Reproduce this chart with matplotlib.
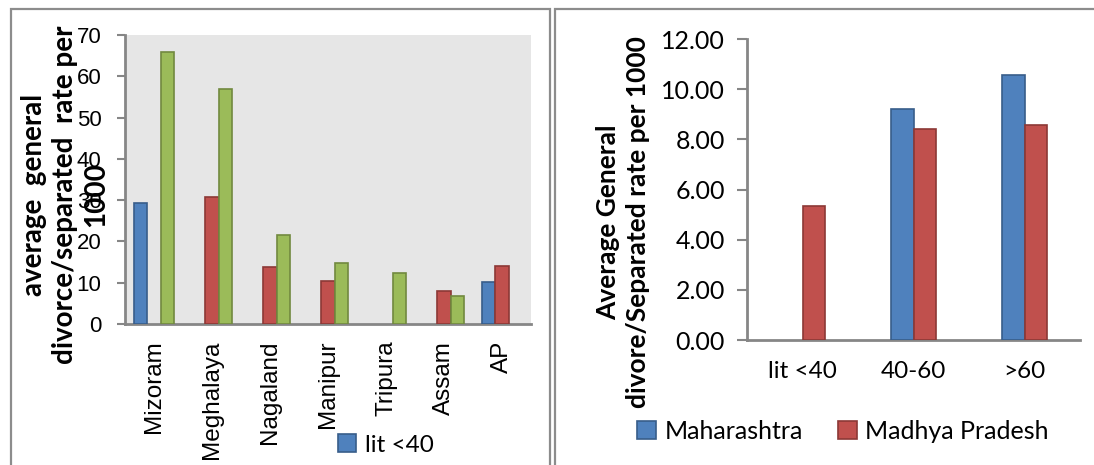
import numpy as np
import matplotlib
matplotlib.use("Agg")
import matplotlib.pyplot as plt
from matplotlib.patches import Rectangle, Patch

# left panel: north-east states, three literacy bands
states = ["Mizoram", "Meghalaya", "Nagaland", "Manipur", "Tripura", "Assam", "AP"]
lit_below_40 = [29.3, 0, 0, 0, 0, 0, 10.1]
lit_40_60 = [0, 30.8, 13.9, 10.3, 0, 8.1, 14.1]
lit_above_60 = [66.0, 56.9, 21.5, 14.7, 12.3, 6.7, 0]
left_series = ["lit <40", "40-60", ">60"]

# right panel: two states by literacy band
bands = ["lit <40", "40-60", ">60"]
maharashtra = [0, 9.21, 10.58]
madhya_pradesh = [5.36, 8.40, 8.58]

BLUE, BLUE_E = "#4F81BD", "#385D8A"
RED, RED_E = "#C0504D", "#8C3836"
GREEN, GREEN_E = "#9BBB59", "#71893F"
AXIS_GREY = "#868686"

W, H = 1094, 465
fig = plt.figure(figsize=(W / 100, H / 100), dpi=100)


def fx(px):
    return px / W


def fy(py):
    return 1 - py / H


# panel frames
fig.patches.append(Rectangle((fx(11), fy(480)), fx(550 - 11), 480 / H - 9 / H,
                             transform=fig.transFigure, fill=False,
                             edgecolor="#8c8c8c", linewidth=1.6))
fig.patches.append(Rectangle((fx(555), fy(480)), fx(560), 480 / H - 9 / H,
                             transform=fig.transFigure, fill=False,
                             edgecolor="#8c8c8c", linewidth=1.6))

# ---- left chart ----
axl = fig.add_axes([fx(125), fy(324), fx(531 - 125), (324 - 35) / H])
axl.set_facecolor("#E6E6E6")
x = np.arange(len(states))
bw = 0.228
left_bars = []
for off, vals, fc, ec, lab in [(-1, lit_below_40, BLUE, BLUE_E, left_series[0]),
                               (0, lit_40_60, RED, RED_E, left_series[1]),
                               (1, lit_above_60, GREEN, GREEN_E, left_series[2])]:
    v = np.array(vals, dtype=float)
    m = v > 0
    b = axl.bar(x[m] + off * bw, v[m], bw, color=fc, edgecolor=ec, linewidth=1.2,
                label=lab, zorder=3)
    left_bars.append(b)
axl.set_xlim(-0.5, len(states) - 0.5)
axl.set_ylim(0, 70)
axl.set_yticks(np.arange(0, 71, 10))
axl.set_xticks(x)
axl.set_xticklabels(states, rotation=90, family="Liberation Sans", fontsize=17.5)
for t in axl.get_yticklabels():
    t.set_family("Liberation Sans")
    t.set_fontsize(16)
axl.tick_params(axis="x", length=0, pad=12)
axl.tick_params(axis="y", length=6, width=1.5, color=AXIS_GREY, pad=11)
for s in ["top", "right"]:
    axl.spines[s].set_visible(False)
for s in ["left", "bottom"]:
    axl.spines[s].set_color(AXIS_GREY)
    axl.spines[s].set_linewidth(2)

fig.text(fx(65), fy(195), "average  general\ndivorce/separated  rate per\n1000",
         rotation=90, ha="center", va="center", multialignment="center",
         family="Lato", fontweight="bold", fontsize=20, linespacing=1.24)

# only the first legend entry fits inside the panel
fig.legend([left_bars[0]], left_series[:1], loc="center left",
           bbox_to_anchor=(fx(338), fy(445)),
           frameon=False, prop={"family": "Lato", "size": 17.5},
           handlelength=0.75, handleheight=0.75, handletextpad=0.35,
           borderaxespad=0, borderpad=0)

# ---- right chart ----
axr = fig.add_axes([fx(747), fy(340), fx(1080 - 747), (340 - 39) / H])
xr = np.arange(len(bands))
bw2 = 0.205
for off, vals, fc, ec in [(-0.5, maharashtra, BLUE, BLUE_E),
                          (0.5, madhya_pradesh, RED, RED_E)]:
    v = np.array(vals, dtype=float)
    m = v > 0
    axr.bar(xr[m] + off * bw2, v[m], bw2, color=fc, edgecolor=ec, linewidth=1.2,
            zorder=3)
axr.set_xlim(-0.5, len(bands) - 0.5)
axr.set_ylim(0, 12)
axr.set_yticks(np.arange(0, 12.1, 2))
axr.set_yticklabels([f"{v:.2f}" for v in np.arange(0, 12.1, 2)],
                    family="Lato", fontsize=18)
axr.set_xticks(xr)
axr.set_xticklabels(bands, family="Lato", fontsize=17.5)
axr.tick_params(axis="x", length=0, pad=15)
axr.tick_params(axis="y", length=7, width=1.5, color=AXIS_GREY, pad=9)
for s in ["top", "right"]:
    axr.spines[s].set_visible(False)
for s in ["left", "bottom"]:
    axr.spines[s].set_color(AXIS_GREY)
    axr.spines[s].set_linewidth(2)

fig.text(fx(623), fy(222), "Average General\ndivore/Separated rate per 1000",
         rotation=90, ha="center", va="center", multialignment="center",
         family="Lato", fontweight="bold", fontsize=19, linespacing=1.26)

hr = [Patch(facecolor=BLUE, edgecolor=BLUE_E, linewidth=1.2),
      Patch(facecolor=RED, edgecolor=RED_E, linewidth=1.2)]
fig.legend(hr, ["Maharashtra", "Madhya Pradesh"], loc="center left",
           bbox_to_anchor=(fx(637), fy(431)), ncol=2, frameon=False,
           prop={"family": "Lato", "size": 18}, handlelength=0.75,
           handleheight=0.75, handletextpad=0.35, columnspacing=1.4,
           borderaxespad=0, borderpad=0)

fig.savefig("out.png", dpi=100)
